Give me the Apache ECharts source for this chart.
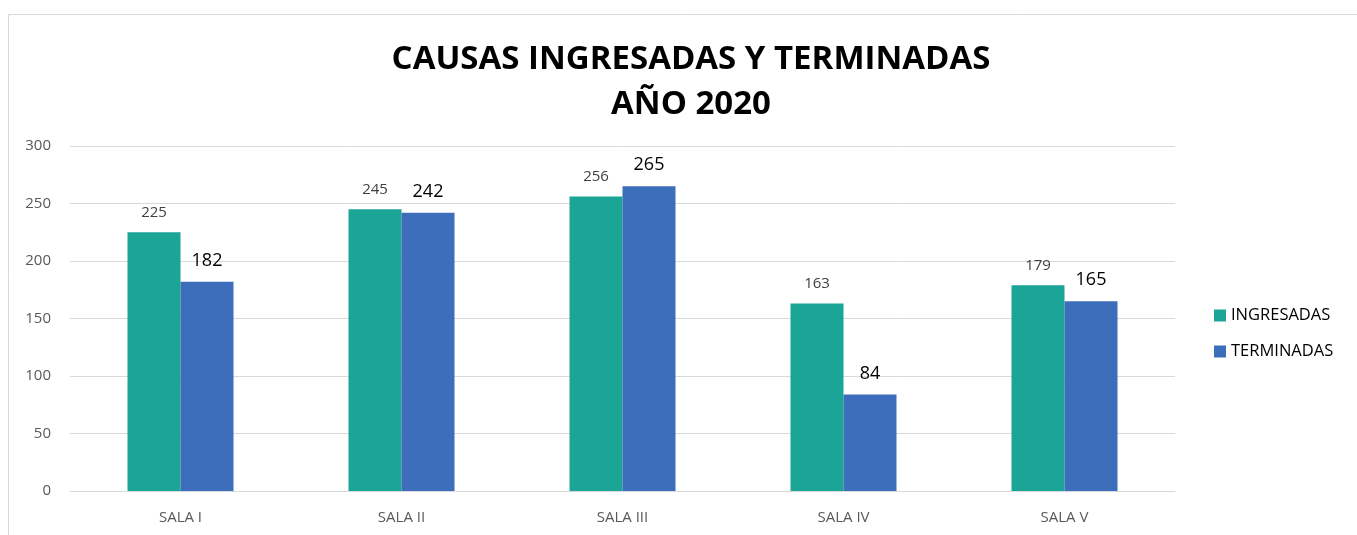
<!DOCTYPE html>
<html>
<head>
<meta charset="utf-8">
<script src="https://cdn.jsdelivr.net/npm/echarts@6/dist/echarts.min.js"></script>
<style>
  html, body { margin: 0; padding: 0; background: #fff; }
  #main { width: 1357px; height: 535px; }
</style>
</head>
<body>
<div id="main"></div>
<script>
var salas = ['SALA I', 'SALA II', 'SALA III', 'SALA IV', 'SALA V'];
var ingresadas = [225, 245, 256, 163, 179];
var terminadas = [182, 242, 265, 84, 165];
var yTicks = [0, 50, 100, 150, 200, 250, 300];

var chart = echarts.init(document.getElementById('main'));

var option = {
  animation: false,
  textStyle: { fontFamily: 'Open Sans' },
  graphic: [{
    type: 'rect',
    shape: { x: 8.5, y: 14.5, width: 1360, height: 540 },
    style: { fill: 'none', stroke: '#d9d9d9', lineWidth: 1 },
    silent: true
  }],
  title: {
    text: 'CAUSAS INGRESADAS Y TERMINADAS\nAÑO 2020',
    left: 686,
    textAlign: 'center',
    top: 32,
    textStyle: {
      fontSize: 33,
      fontWeight: 'bold',
      color: '#000',
      lineHeight: 45,
      fontFamily: 'Open Sans'
    }
  },
  legend: {
    orient: 'vertical',
    left: 1209,
    top: 302,
    itemWidth: 12,
    itemHeight: 12,
    itemGap: 19,
    icon: 'rect',
    textStyle: { fontSize: 16.5, color: '#000' },
    data: ['INGRESADAS', 'TERMINADAS']
  },
  grid: {
    left: 70,
    right: 182,
    top: 146,
    bottom: 44,
    containLabel: false
  },
  xAxis: {
    type: 'category',
    data: salas,
    axisTick: { show: false },
    axisLine: { lineStyle: { color: '#d9d9d9' } },
    axisLabel: { color: '#595959', fontSize: 15, margin: 19 }
  },
  yAxis: {
    type: 'value',
    min: yTicks[0],
    max: yTicks[yTicks.length - 1],
    interval: 50,
    axisLine: { show: false },
    axisTick: { show: false },
    splitLine: { lineStyle: { color: '#d9d9d9' } },
    axisLabel: { color: '#595959', fontSize: 15, margin: 19 }
  },
  series: [{
    name: 'INGRESADAS',
    type: 'bar',
    data: ingresadas,
    barWidth: 53,
    barGap: '0%',
    itemStyle: { color: '#1ba596' },
    label: {
      show: true,
      position: 'top',
      distance: 12,
      color: '#404040',
      fontSize: 15
    }
  }, {
    name: 'TERMINADAS',
    type: 'bar',
    data: terminadas,
    barWidth: 53,
    barGap: '0%',
    itemStyle: { color: '#3d6ebb' },
    label: {
      show: true,
      position: 'top',
      distance: 12,
      color: '#000',
      fontSize: 18
    }
  }]
};

chart.setOption(option);
</script>
</body>
</html>
